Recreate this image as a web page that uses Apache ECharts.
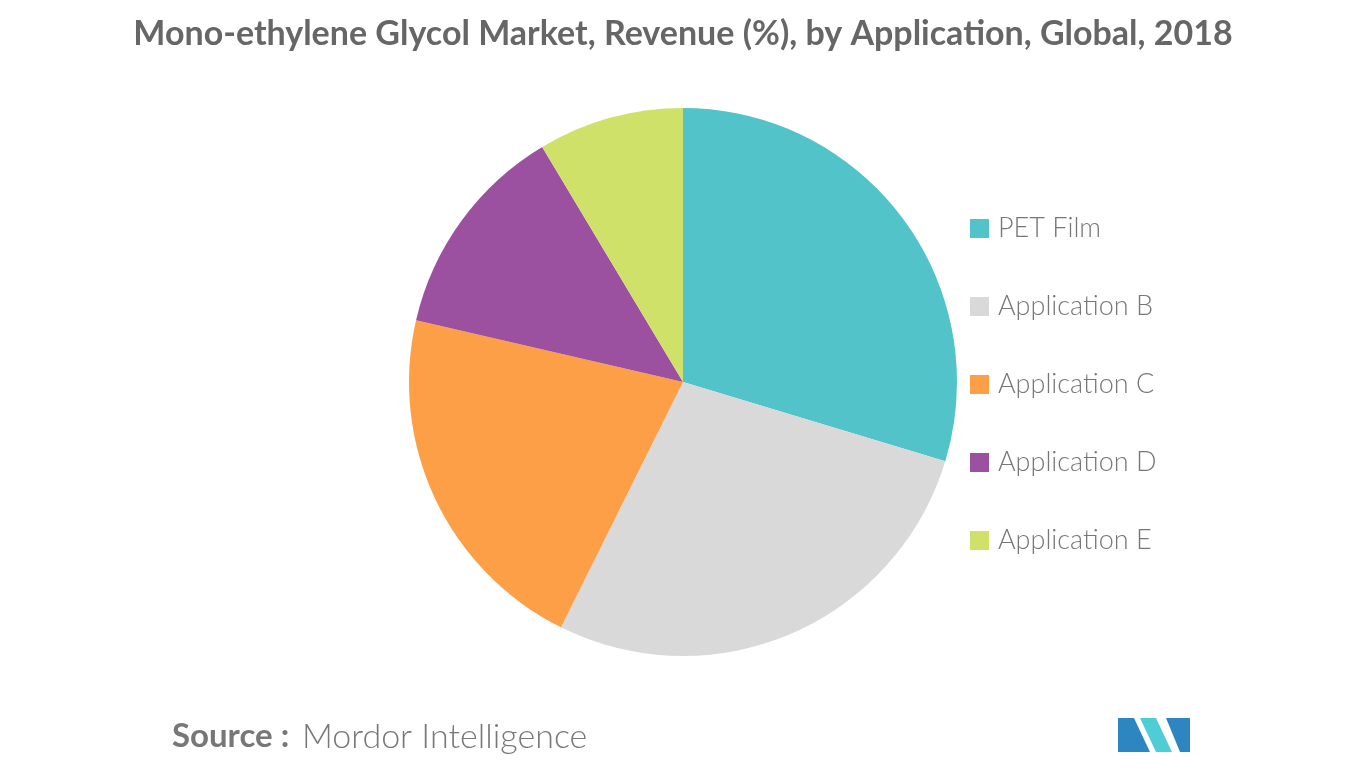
<!DOCTYPE html>
<html><head><meta charset="utf-8">
<script src="https://cdn.jsdelivr.net/npm/echarts@6/dist/echarts.min.js"></script>
<style>html,body{margin:0;padding:0;background:#fff}#c{width:1366px;height:768px}</style>
</head><body><div id="c"></div>
<script>
const categories = ['PET Film','Application B','Application C','Application D','Application E'];
const values = [29.7, 27.7, 21.3, 12.8, 8.6];
const colors = ['#51c3c9','#d9d9d9','#fc9f46','#9b51a0','#d0e16a'];
const chart = echarts.init(document.getElementById('c'));
chart.setOption({
  animation:false,
  title:{text:'Mono-ethylene Glycol Market, Revenue (%), by Application, Global, 2018',left:'center',top:12,
    textStyle:{fontFamily:'Lato',fontWeight:'bold',fontSize:34,color:'#666'}},
  legend:{orient:'vertical',left:965,top:210,itemWidth:19,itemHeight:19,itemGap:51,icon:'rect',
    data:categories,textStyle:{fontFamily:'Lato',fontWeight:300,fontSize:27,color:'#777',padding:[0,0,0,4]}},
  graphic:[
    {type:'text',left:172,top:720,style:{text:'Source :',font:'bold 33px Lato',fill:'#777'}},
    {type:'text',left:302,top:720,style:{text:'Mordor Intelligence',font:'300 34px Lato',fill:'#777'}},
    {type:'polygon',shape:{points:[[1118,752],[1118,718],[1134,718],[1150,752]]},style:{fill:'#2e86c1'}},
    {type:'polygon',shape:{points:[[1140,718],[1156,718],[1172,752],[1156,752]]},style:{fill:'#4ecdd4'}},
    {type:'polygon',shape:{points:[[1166,718],[1190,718],[1190,752],[1180,752]]},style:{fill:'#2e86c1'}}
  ],
  series:[{type:'pie',center:[683,382],radius:[0,274],startAngle:90,clockwise:true,
    label:{show:false},labelLine:{show:false},
    itemStyle:{borderColor:'#fff',borderWidth:0},
    data:categories.map((n,i)=>({name:n,value:values[i],itemStyle:{color:colors[i]}}))}]
});
</script></body></html>
